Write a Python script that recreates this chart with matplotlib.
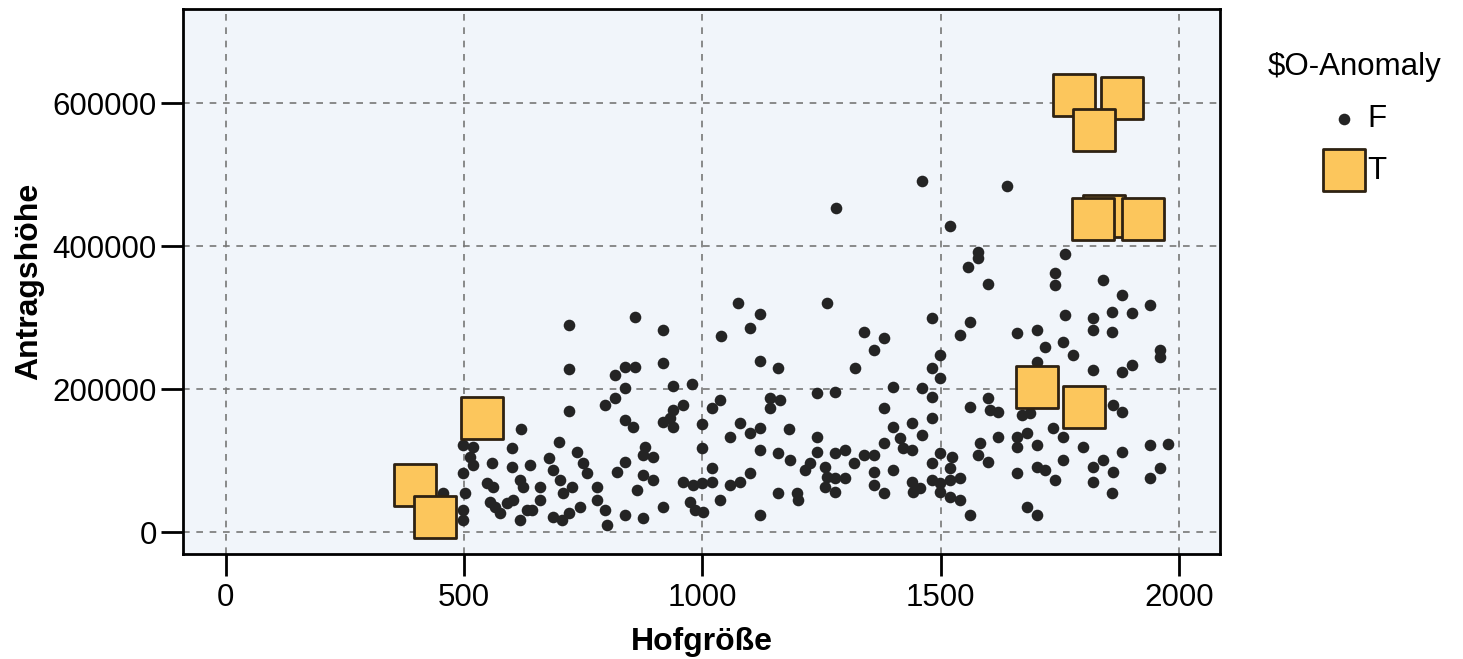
import matplotlib
matplotlib.use("Agg")
import matplotlib.pyplot as plt

# Hofgröße / Antragshöhe, normal records ($O-Anomaly = F)
hof_f = [
    719, 719, 719, 619, 699, 600, 498, 519, 513, 519, 498, 502, 498, 498, 456,
    558, 548, 561, 554, 565, 575, 590, 603, 600, 617, 624, 638, 631, 617, 642,
    659, 659, 677, 687, 701, 708, 726, 736, 750, 757, 743, 687, 705, 719,
    859, 918, 1075, 1121, 1100, 1038, 1121, 1159, 918, 838, 859, 817, 838, 817,
    796, 939, 978, 960, 939, 932, 918, 939, 838, 855, 1037, 1020, 999, 1142,
    1163, 1142, 1079, 1100, 1121, 1058, 1182, 999, 1121, 1159, 1184, 880, 897,
    876, 838, 820, 876, 897, 862, 1020, 960, 981, 999, 1020, 1058, 1079, 1100,
    1159, 1198, 1201, 1037, 974, 985, 1002, 918, 838, 876, 1121, 778, 778, 796,
    799,
    1261, 1481, 1561, 1540, 1338, 1380, 1359, 1320, 1498, 1481, 1498, 1240,
    1278, 1400, 1460, 1481, 1380, 1481, 1561, 1600, 1603, 1621, 1400, 1439,
    1460, 1380, 1415, 1421, 1439, 1240, 1621, 1582, 1579, 1600, 1240, 1226,
    1215, 1278, 1299, 1338, 1359, 1317, 1257, 1261, 1278, 1299, 1257, 1278,
    1359, 1359, 1380, 1400, 1439, 1442, 1456, 1481, 1498, 1523, 1519, 1481,
    1498, 1519, 1540, 1498, 1519, 1540, 1561,
    1761, 1820, 1820, 1859, 1901, 1939, 1859, 1659, 1701, 1719, 1757, 1778,
    1960, 1960, 1701, 1820, 1880, 1901, 1687, 1670, 1862, 1880, 1736, 1757,
    1659, 1680, 1659, 1701, 1799, 1880, 1939, 1977, 1757, 1659, 1701, 1719,
    1740, 1820, 1841, 1862, 1820, 1859, 1960, 1939, 1680, 1701,
    1640, 1761, 1740, 1740, 1840, 1880, 1460, 1519, 1579, 1579, 1558, 1600, 1280,
]
antrag_f = [
    289500, 228000, 169200, 144100, 126300, 117500, 121700, 118900, 104900,
    93700, 82500, 54500, 30800, 16800, 54500, 96100, 68100, 63400, 42400,
    35400, 26200, 40100, 44800, 91300, 72700, 63400, 93700, 30800, 16800,
    30800, 44800, 63400, 103100, 86700, 72700, 54100, 63400, 112300, 96100,
    82100, 35400, 21400, 16800, 26200,
    301100, 282500, 319900, 304900, 284900, 274100, 239200, 228900, 235900,
    231200, 231200, 219600, 201000, 187000, 177600, 204200, 207000, 177600,
    170600, 159000, 154300, 147300, 156600, 147300, 184600, 173000, 151000,
    187000, 184600, 173000, 152000, 138000, 145000, 132400, 143600, 117100,
    114700, 110100, 100700, 119300, 105300, 107700, 98300, 84300, 79700,
    72700, 58700, 89100, 70300, 65700, 69000, 70300, 65700, 70300, 82100,
    54100, 54100, 44800, 44800, 42400, 30800, 28400, 35400, 23800, 19200,
    23800, 63400, 44800, 30800, 9800,
    319900, 298900, 294100, 275500, 280100, 270900, 254500, 228900, 247600,
    228900, 215000, 194800, 196200, 202400, 201000, 189200, 173000, 159000,
    174400, 187000, 170600, 168300, 147300, 152000, 135700, 124100, 131000,
    117100, 114700, 133300, 133300, 124100, 107700, 98300, 112300, 96100,
    86700, 110100, 114700, 107700, 107700, 96100, 91300, 77300, 75100, 75100,
    63400, 56400, 84300, 65700, 54100, 86700, 70300, 56400, 61100, 96100,
    110100, 105300, 89100, 72700, 68100, 72700, 75100, 56400, 49400, 44800,
    23800,
    303500, 298900, 282500, 308100, 305900, 317500, 280100, 277900, 282500,
    259200, 266200, 247600, 254500, 245200, 238200, 226600, 224200, 233600,
    166000, 163600, 177600, 168300, 145000, 133300, 133300, 138000, 119300,
    121700, 119300, 112300, 121700, 123100, 100700, 82100, 91300, 86700,
    72700, 91300, 100700, 84300, 70300, 54100, 89100, 75100, 35400, 23800,
    483900, 388800, 361800, 345400, 352400, 331500, 491300, 428000, 392000,
    382800, 371000, 346400, 453600,
]

# anomalies ($O-Anomaly = T)
hof_t = [537, 397, 439, 1701, 1800, 1780, 1880, 1821, 1842, 1820, 1924]
antrag_t = [159400, 65700, 21400, 203200, 175200, 611200, 606600, 562200,
            442000, 437800, 437300]

plt.rcParams["font.family"] = ["Liberation Sans", "DejaVu Sans"]

fig = plt.figure(figsize=(14.63, 6.59), dpi=100)
ax = fig.add_axes([0.1251, 0.1593, 0.7088, 0.8270])
ax.set_facecolor("#F1F5FA")

ax.scatter(hof_f, antrag_f, s=70, color="#242424", linewidths=0,
           label="F", zorder=3)
ax.scatter(hof_t, antrag_t, s=900, marker="s", color="#FCC65C",
           edgecolors="#2E2212", linewidths=2, label="T", zorder=4)

ax.set_xlim(-90, 2086)
ax.set_ylim(-30800, 731500)
ax.set_xticks([0, 500, 1000, 1500, 2000])
ax.set_yticks([0, 200000, 400000, 600000])
ax.grid(True, color="#777777", linestyle=(0, (4, 4)), linewidth=1.2, zorder=1)

for sp in ax.spines.values():
    sp.set_linewidth(2)
ax.tick_params(length=16, width=2, labelsize=22.5, pad=3, colors="black")
ax.tick_params(axis="x", pad=5)

ax.set_xlabel("Hofgröße", fontsize=23, fontweight="bold", labelpad=10)
ax.set_ylabel("Antragshöhe", fontsize=23, fontweight="bold", labelpad=6)

leg = ax.legend(loc="upper left", bbox_to_anchor=(1252 / 1463, 0.945),
                bbox_transform=fig.transFigure, frameon=False,
                title="$O-Anomaly".replace("$", r"\$"), fontsize=22.5,
                title_fontsize=22.5, handletextpad=0.05, labelspacing=0.7,
                borderpad=0, handlelength=1.4)

fig.savefig("out.png", dpi=100)
